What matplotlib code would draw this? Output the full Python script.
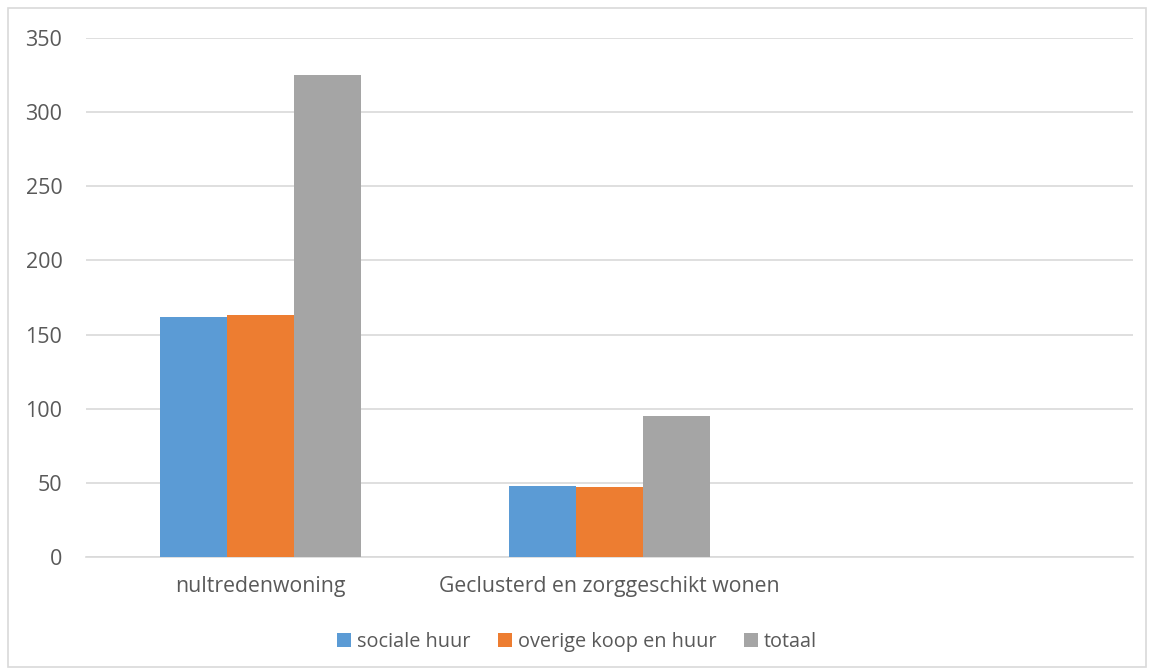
import numpy as np
import matplotlib.pyplot as plt
from matplotlib.patches import Rectangle

# data
categories = ["nultredenwoning", "Geclusterd en zorggeschikt wonen", ""]
series_names = ["sociale huur", "overige koop en huur", "totaal"]
sociale_huur = [162, 48, np.nan]
overige_koop_en_huur = [163, 47, np.nan]
totaal = [325, 95, np.nan]
yticks = [0, 50, 100, 150, 200, 250, 300, 350]

colors = ["#5B9BD5", "#ED7D31", "#A5A5A5"]
text_col = "#595959"
grid_col = "#D9D9D9"

plt.rcParams['font.family'] = ['Open Sans', 'DejaVu Sans']

fig = plt.figure(figsize=(11.54, 6.70), dpi=100)
ax = fig.add_axes([86 / 1154, 1 - 557 / 670, (1133 - 86) / 1154, (557 - 38) / 670])

x = np.arange(len(categories))
w = 0.192
for i, (vals, name) in enumerate(zip([sociale_huur, overige_koop_en_huur, totaal], series_names)):
    ax.bar(x + (i - 1) * w, vals, width=w, color=colors[i], label=name, zorder=3)

ax.set_xlim(-0.5, len(categories) - 0.5)
ax.set_ylim(0, 350)
ax.set_yticks(yticks)
ax.set_xticks(x)
ax.set_xticklabels(categories)
ax.yaxis.grid(True, color=grid_col, lw=1.2, zorder=0)
ax.tick_params(axis='both', length=0, colors=text_col)
ax.tick_params(axis='y', pad=17, labelsize=15.5)
ax.tick_params(axis='x', pad=14, labelsize=15.3)
for s in ['top', 'right', 'left']:
    ax.spines[s].set_visible(False)
ax.spines['bottom'].set_color(grid_col)
ax.spines['bottom'].set_linewidth(1.2)

leg = fig.legend(loc='center', bbox_to_anchor=(0.5, 1 - 642 / 670), ncol=3, frameon=False,
                 fontsize=14.3, handlelength=0.7, handleheight=0.7, handletextpad=0.3,
                 columnspacing=1.4)
for t in leg.get_texts():
    t.set_color(text_col)

# outer chart border
fig.patches.append(Rectangle((8 / 1154, 3 / 670), 1 - 16 / 1154, 1 - 11 / 670,
                             transform=fig.transFigure, fill=False,
                             edgecolor=grid_col, lw=1.2))

fig.savefig('out.png', dpi=100)
